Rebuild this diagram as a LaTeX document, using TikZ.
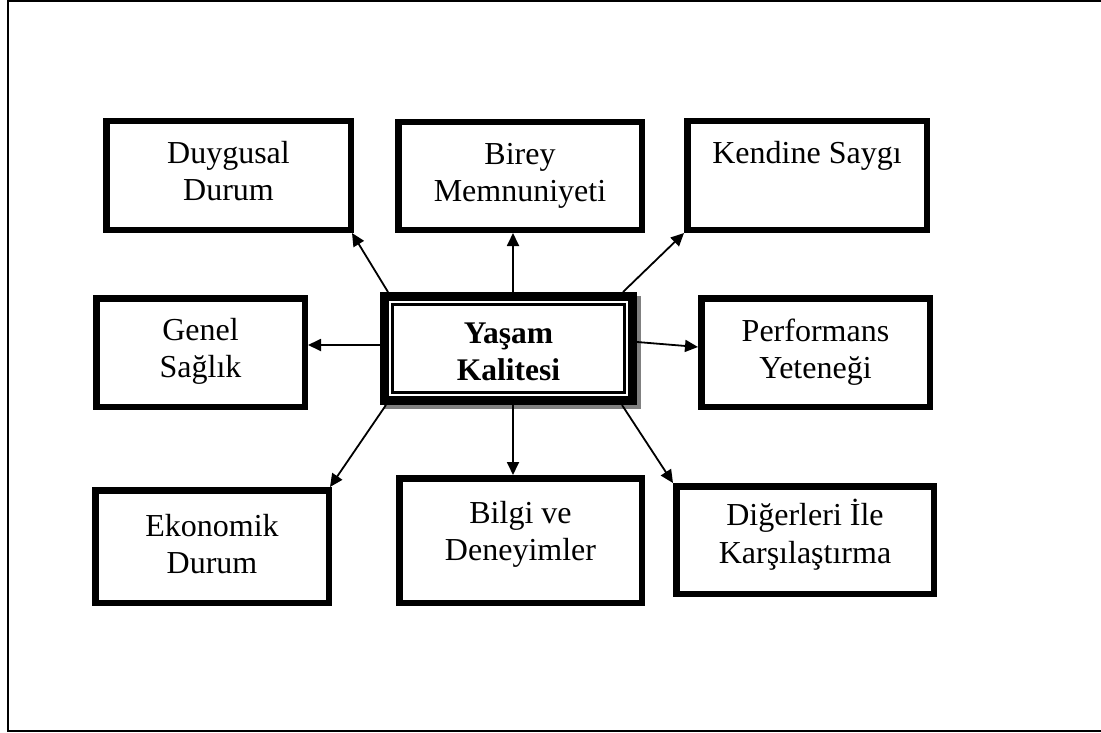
\documentclass[tikz,border=0pt]{standalone}
\usepackage{fontspec}
\setmainfont{Liberation Serif}
\usetikzlibrary{arrows.meta,backgrounds}
\tikzset{
  box/.style={draw, rectangle, line width=6.5pt, inner sep=0pt, fill=white},
  lbl/.style={font=\fontsize{32}{37.5}\selectfont, align=center, inner sep=0pt, anchor=north},
  conn/.style={line width=1.8pt, -{Triangle[length=13pt,width=12pt]}},
  frame/.style={line width=2pt},
}
\begin{document}
\begin{tikzpicture}[x=1pt,y=-1pt]
\useasboundingbox (0,0) rectangle (1101,733);
\draw[frame] (1101,1) -- (8,1) -- (8,731) -- (1101,731);

% boxes
\node[box, minimum width=244.5pt, minimum height=108.5pt] (duy) at (228.5,175.5) {};
\node[box, minimum width=243.5pt, minimum height=107.5pt] (bir) at (520,176) {};
\node[box, minimum width=239.5pt, minimum height=108.5pt] (ken) at (807,175.5) {};
\node[box, minimum width=208.5pt, minimum height=108.5pt] (gen) at (200.5,352.5) {};
\node[box, minimum width=228.5pt, minimum height=108.5pt] (per) at (815.5,352.5) {};
\node[box, minimum width=233.5pt, minimum height=112.5pt] (eko) at (212,546.5) {};
\node[box, minimum width=242.5pt, minimum height=124.5pt] (bil) at (520.5,540.5) {};
\node[box, minimum width=257.5pt, minimum height=107.5pt] (dig) at (805,540) {};

% centre
\node[box, line width=9pt, minimum width=248pt, minimum height=104pt] (cen) at (508.5,348.5) {};
\begin{scope}[on background layer]
\fill[gray] ([shift={(4pt,-4pt)}]cen.north west) rectangle ([shift={(4pt,-4pt)}]cen.south east);
\end{scope}
\draw[line width=2.2pt] ([shift={(12.5pt,-12.5pt)}]cen.north west) rectangle ([shift={(-12.5pt,12.5pt)}]cen.south east);

% labels
\node[lbl] (tduy) at ([yshift=-19pt]duy.north) {\strut Duygusal\\Durum};
\node[lbl] (tbir) at ([yshift=-19pt]bir.north) {\strut Birey\\Memnuniyeti};
\node[lbl] (tken) at ([yshift=-19pt]ken.north) {\strut Kendine Saygı};
\node[lbl] (tgen) at ([yshift=-19pt]gen.north) {\strut Genel\\Sağlık};
\node[lbl] (tper) at ([yshift=-20pt]per.north) {\strut Performans\\Yeteneği};
\node[lbl] (teko) at ([yshift=-23pt]eko.north) {\strut Ekonomik\\Durum};
\node[lbl] (tbil) at ([yshift=-22pt]bil.north) {\strut Bilgi ve\\Deneyimler};
\node[lbl] (tdig) at ([yshift=-16pt]dig.north) {\strut Diğerleri İle\\Karşılaştırma};
\node[lbl, font=\fontsize{31.5}{37.5}\selectfont\bfseries] (tcen) at ([yshift=-24.75pt]cen.north) {\strut Yaşam\\Kalitesi};

% connectors
\draw[conn] ([xshift=8pt]cen.north west) -- ([xshift=-2pt]duy.south east);
\draw[conn] ([xshift=4.5pt]cen.north) -- ([xshift=4.5pt]cen.north |- bir.south);
\draw[conn] ([xshift=-14pt]cen.north east) -- (ken.south west);
\draw[conn] ([yshift=3.5pt]cen.west) -- ([yshift=3.5pt]cen.west -| gen.east);
\draw[conn] ([yshift=6.5pt]cen.east) -- ([yshift=5.5pt]per.west);
\draw[conn] ([xshift=6pt]cen.south west) -- ([xshift=-2pt]eko.north east);
\draw[conn] ([xshift=4.5pt]cen.south) -- ([xshift=4.5pt]cen.south |- bil.north);
\draw[conn] ([xshift=-15pt]cen.south east) -- (dig.north west);
\end{tikzpicture}
\end{document}
